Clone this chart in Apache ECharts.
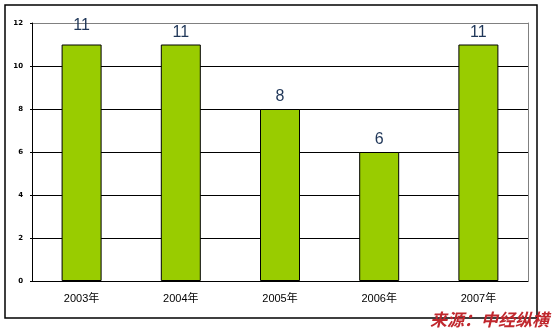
<!DOCTYPE html>
<html><head><meta charset="utf-8">
<script src="https://cdn.jsdelivr.net/npm/echarts@6/dist/echarts.min.js"></script>
<style>html,body{margin:0;padding:0;background:#fff}#c{width:553px;height:331px}</style>
</head><body><div id="c"></div>
<script>
const categories = ['2003年','2004年','2005年','2006年','2007年'];
const values = [11, 11, 8, 6, 11];
const yTicks = [0, 2, 4, 6, 8, 10, 12];
const sourceText = '来源：中经纵横';

const chart = echarts.init(document.getElementById('c'));
const data = values.map((v, i) => i === 0 ? {value: v, label: {distance: 11}} : v);
chart.setOption({
  animation: false,
  backgroundColor: '#fff',
  grid: {left: 32, right: 25, top: 23, bottom: 50},
  xAxis: {
    type: 'category', data: categories, boundaryGap: true,
    axisLine: {lineStyle: {color: '#000', width: 1}},
    axisTick: {inside: true, length: 3, lineStyle: {color: '#000'}},
    axisLabel: {color: '#000', fontSize: 11, margin: 12, fontFamily: 'Liberation Sans, Noto Sans CJK SC'}
  },
  yAxis: [{
    type: 'value', min: yTicks[0], max: yTicks[yTicks.length - 1], interval: 2,
    axisLine: {show: true, lineStyle: {color: '#000'}},
    axisTick: {show: true, length: 2, lineStyle: {color: '#000'}},
    axisLabel: {color: '#000', fontSize: 7, margin: 9, fontWeight: 'bold', fontFamily: 'DejaVu Sans'},
    splitLine: {show: true, lineStyle: {color: ['#000','#000','#000','#000','#000','#000','#808080'], width: 1}}
  }, {
    type: 'value', position: 'right', min: 0, max: 12, interval: 2,
    axisLine: {show: true, lineStyle: {color: '#808080'}},
    axisTick: {show: false}, axisLabel: {show: false}, splitLine: {show: false}
  }],
  series: [{
    type: 'bar', data: data, barWidth: 40,
    itemStyle: {color: '#99cc00', borderColor: '#000', borderWidth: 1},
    label: {show: true, position: 'top', distance: 4, fontSize: 16, color: '#1f3658', fontFamily: 'Liberation Sans'}
  }],
  graphic: [
    {type: 'rect', shape: {x: 5, y: 5, width: 532, height: 313}, style: {fill: 'none', stroke: '#000', lineWidth: 1.5}, z: 0, silent: true},
    {type: 'text', left: 430, top: 311, style: {text: sourceText, fill: '#c0272d', font: 'italic bold 17px "Noto Sans CJK SC"'}, z: 10}
  ]
});
</script></body></html>
